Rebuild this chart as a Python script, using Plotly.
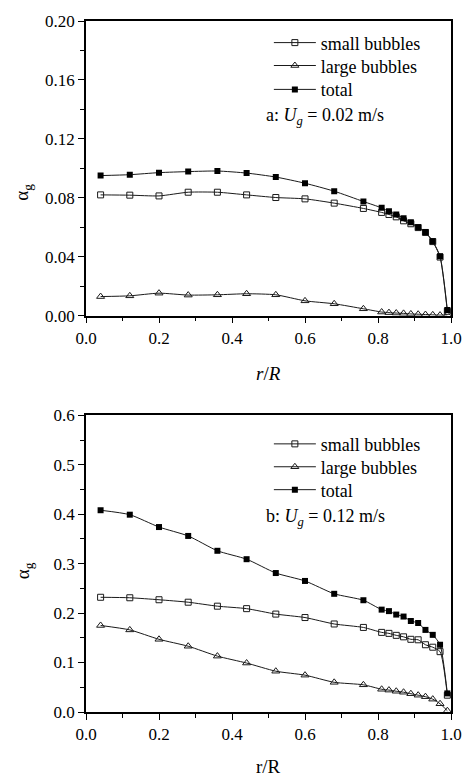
import plotly.graph_objects as go

r = [0.04, 0.12, 0.20, 0.28, 0.36, 0.44, 0.52, 0.60, 0.68, 0.76,
     0.81, 0.83, 0.85, 0.87, 0.89, 0.91, 0.93, 0.95, 0.97, 0.99]

# Panel a: Ug = 0.02 m/s
a_small = [0.0820, 0.0818, 0.0813, 0.0838, 0.0838, 0.0820, 0.0802, 0.0793, 0.0764, 0.0728,
           0.0701, 0.0687, 0.0671, 0.0644, 0.0624, 0.0598, 0.0565, 0.0503, 0.0398, 0.0030]
a_large = [0.0130, 0.0135, 0.0153, 0.0140, 0.0142, 0.0149, 0.0142, 0.0101, 0.0081, 0.0047,
           0.0025, 0.0021, 0.0018, 0.0016, 0.0012, 0.0010, 0.0008, 0.0006, 0.0004, 0.0006]
a_total = [0.0951, 0.0957, 0.0971, 0.0978, 0.0982, 0.0968, 0.0941, 0.0899, 0.0845, 0.0775,
           0.0732, 0.0709, 0.0687, 0.0662, 0.0635, 0.0601, 0.0568, 0.0505, 0.0403, 0.0038]

# Panel b: Ug = 0.12 m/s
b_small = [0.232, 0.231, 0.227, 0.222, 0.214, 0.209, 0.198, 0.191, 0.178, 0.171,
           0.161, 0.159, 0.155, 0.152, 0.147, 0.146, 0.136, 0.131, 0.122, 0.034]
b_large = [0.175, 0.166, 0.147, 0.133, 0.113, 0.099, 0.0825, 0.0745, 0.060, 0.055,
           0.046, 0.0443, 0.042, 0.040, 0.037, 0.034, 0.031, 0.026, 0.0167, 0.0026]
b_total = [0.408, 0.399, 0.374, 0.356, 0.326, 0.309, 0.281, 0.265, 0.239, 0.226,
           0.207, 0.204, 0.197, 0.193, 0.184, 0.180, 0.166, 0.156, 0.136, 0.0376]

names = ["small bubbles", "large bubbles", "total"]
FONT = "Liberation Serif"
LC = "#1a1a1a"

fig = go.Figure()

def add_panel(ys, xa, ya, legs):
    styles = [
        dict(symbol="square-open", size=6, color=LC, line=dict(width=1, color=LC)),
        dict(symbol="triangle-up-open", size=7, color=LC, line=dict(width=1, color=LC)),
        dict(symbol="square", size=6, color="black", line=dict(width=0)),
    ]
    for name, y, m, leg in zip(names, ys, styles, legs):
        fig.add_trace(go.Scatter(
            x=r, y=y, name=name, mode="lines+markers",
            line=dict(color=LC, width=1, shape="spline", smoothing=0.6),
            marker=m, xaxis=xa, yaxis=ya, legend=leg))

add_panel([a_small, a_large, a_total], "x", "y", ["legend", "legend2", "legend3"])
add_panel([b_small, b_large, b_total], "x2", "y2", ["legend4", "legend5", "legend6"])

axis_common = dict(showline=True, linecolor="black", linewidth=1.5, mirror=True,
                   ticks="outside", ticklen=6, tickwidth=1.2, tickcolor="black",
                   showgrid=False, zeroline=False,
                   tickfont=dict(family=FONT, size=17, color="black"))

def leg(ypx):
    return dict(x=0.501, y=(712 - ypx) / 694, xanchor="left", yanchor="middle",
                bgcolor="rgba(0,0,0,0)", font=dict(family=FONT, size=18, color="black"),
                itemwidth=42, tracegroupgap=0)

fig.update_layout(
    width=474, height=779,
    margin=dict(l=86, r=14, t=18, b=67),
    plot_bgcolor="white", paper_bgcolor="white",
    font=dict(family=FONT, color="black"),
    showlegend=True,
    xaxis=dict(domain=[0, 1], anchor="y", range=[0, 1], dtick=0.2, tickformat=".1f",
               minor=dict(dtick=0.1, ticklen=4, tickwidth=1, tickcolor="black", ticks="outside"),
               **axis_common),
    yaxis=dict(domain=[0.5735, 1.0], anchor="x", range=[0, 0.2], dtick=0.04, tickformat=".2f",
               minor=dict(dtick=0.02, ticklen=4, tickwidth=1, tickcolor="black", ticks="outside"),
               **axis_common),
    xaxis2=dict(domain=[0, 1], anchor="y2", range=[0, 1], dtick=0.2, tickformat=".1f",
                minor=dict(dtick=0.1, ticklen=4, tickwidth=1, tickcolor="black", ticks="outside"),
                **axis_common),
    yaxis2=dict(domain=[0, 0.4294], anchor="x2", range=[0, 0.6], dtick=0.1, tickformat=".1f",
                minor=dict(dtick=0.05, ticklen=4, tickwidth=1, tickcolor="black", ticks="outside"),
                **axis_common),
    legend=leg(40), legend2=leg(63), legend3=leg(87),
    legend4=leg(443), legend5=leg(466), legend6=leg(489),
)

ann_font = dict(family=FONT, size=18, color="black")
fig.add_annotation(text="a: <i>U</i><sub><i>g</i></sub> = 0.02 m/s", xref="paper", yref="paper",
                   x=0.487, y=(712 - 114) / 694, xanchor="left", yanchor="middle", showarrow=False, font=ann_font)
fig.add_annotation(text="b: <i>U</i><sub><i>g</i></sub> = 0.12 m/s", xref="paper", yref="paper",
                   x=0.487, y=(712 - 517) / 694, xanchor="left", yanchor="middle", showarrow=False, font=ann_font)
fig.add_annotation(text="<i>r</i>/<i>R</i>", xref="paper", yref="paper",
                   x=0.5, y=(712 - 372) / 694, xanchor="center", yanchor="middle", showarrow=False,
                   font=dict(family=FONT, size=19, color="black"))
fig.add_annotation(text="r/R", xref="paper", yref="paper",
                   x=0.5, y=(712 - 779) / 694, xanchor="center", yanchor="bottom", showarrow=False,
                   font=dict(family=FONT, size=19, color="black"))
fig.add_annotation(text="α<sub>g</sub>", xref="paper", yref="paper", textangle=-90,
                   x=(22 - 86) / 374, y=(712 - 190) / 694, xanchor="center", yanchor="middle",
                   showarrow=False, font=dict(family=FONT, size=19, color="black"))
fig.add_annotation(text="α<sub>g</sub>", xref="paper", yref="paper", textangle=-90,
                   x=(22 - 86) / 374, y=(712 - 570) / 694, xanchor="center", yanchor="middle",
                   showarrow=False, font=dict(family=FONT, size=19, color="black"))

fig.write_html("out.html")
